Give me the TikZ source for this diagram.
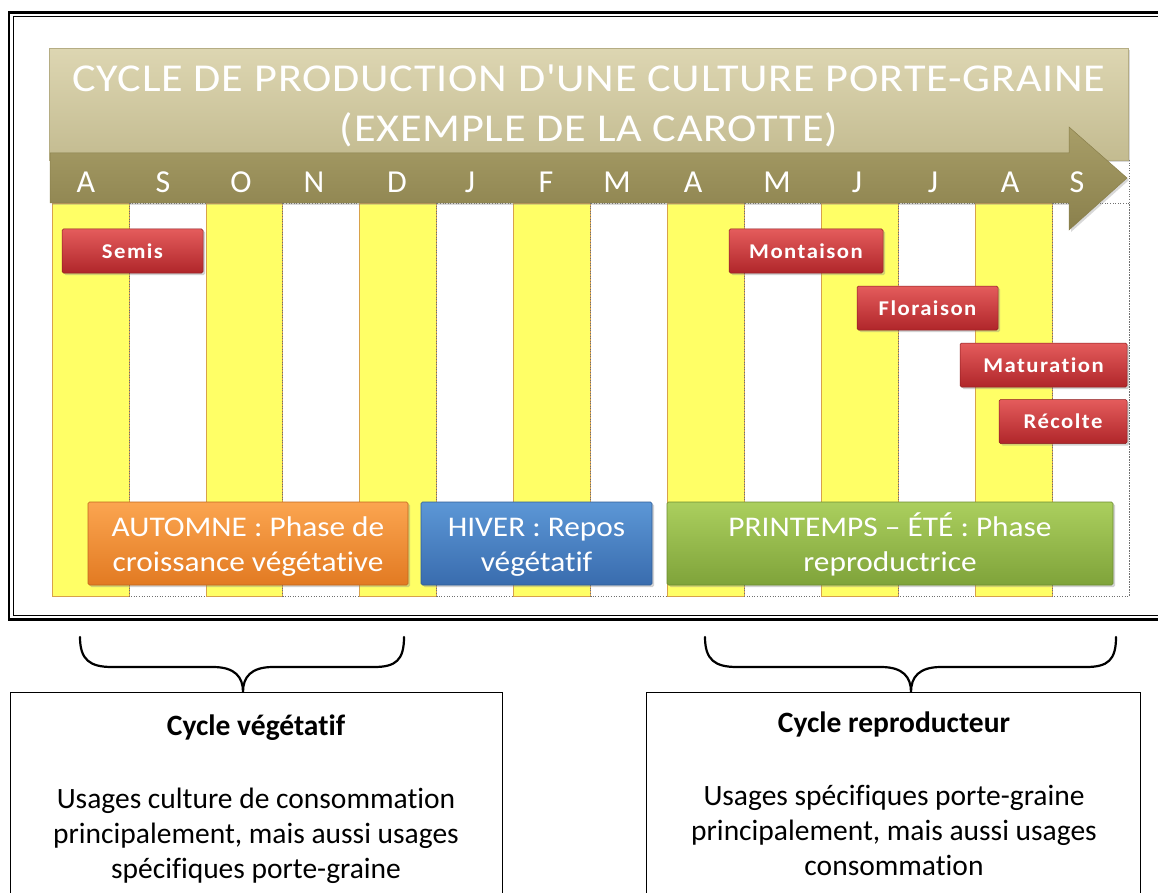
\documentclass[tikz,border=0pt]{standalone}
\usepackage{fontspec}
\setmainfont{Carlito}[Ligatures=NoCommon]
\newfontfamily\titlefont{Carlito}[LetterSpace=2,FakeStretch=1.12,Ligatures=NoCommon]
\newfontfamily\redfont{Carlito}[LetterSpace=7,FakeStretch=1.08,Ligatures=NoCommon]
\newfontfamily\phasefont{Carlito}[FakeStretch=1.1,Ligatures=NoCommon]
\usetikzlibrary{shadows}
\definecolor{ylw}{HTML}{FFFF66}
\definecolor{ylwedge}{HTML}{D8A24A}
\definecolor{tantop}{HTML}{DDD6B2}
\definecolor{tanbot}{HTML}{C3BB90}
\definecolor{tanedge}{HTML}{B5AD84}
\definecolor{arrtop}{HTML}{A89E68}
\definecolor{arrbot}{HTML}{8A804C}
\definecolor{redtop}{HTML}{E45C5C}
\definecolor{redbot}{HTML}{B0262A}
\definecolor{rededge}{HTML}{8C1C1E}
\definecolor{ortop}{HTML}{FBA550}
\definecolor{orbot}{HTML}{E27A22}
\definecolor{oredge}{HTML}{C0661C}
\definecolor{bltop}{HTML}{5C97D6}
\definecolor{blbot}{HTML}{396CAE}
\definecolor{bledge}{HTML}{2F5C96}
\definecolor{grtop}{HTML}{ABCF5E}
\definecolor{grbot}{HTML}{7FA33A}
\definecolor{gredge}{HTML}{6C8C30}
\definecolor{dotgray}{HTML}{707070}
\begin{document}
\begin{tikzpicture}[x=1pt,y=-1pt,
  yelcol/.style={fill=ylw,draw=ylwedge,line width=0.6pt},
  whitecol/.style={draw=dotgray,dotted,line width=0.6pt},
  redbox/.style={rectangle,rounded corners=1.5pt,top color=redtop,bottom color=redbot,draw=rededge,line width=0.5pt,
    minimum height=44pt,inner sep=0pt,text=white,font=\redfont\bfseries\fontsize{21}{24}\selectfont,
    drop shadow={shadow xshift=2pt,shadow yshift=-2pt,opacity=0.35}},
  phasebox/.style={rectangle,rounded corners=1.5pt,minimum height=83pt,inner sep=0pt,text=white,align=center,
    font=\phasefont\fontsize{28.5}{35}\selectfont,line width=0.6pt,
    drop shadow={shadow xshift=2pt,shadow yshift=-2pt,opacity=0.35}},
  phasetext/.style={text=white,align=center,inner sep=0pt,font=\phasefont\fontsize{28.5}{35}\selectfont},
  month/.style={anchor=base,text=white,font=\fontsize{32}{36}\selectfont},
  titletext/.style={anchor=base,text=white,font=\titlefont\fontsize{39.5}{48}\selectfont},
  infobox/.style={rectangle,draw=black,line width=0.8pt,anchor=north west,inner sep=0pt},
  infotitle/.style={font=\bfseries\fontsize{29.5}{34}\selectfont,anchor=base},
  infobody/.style={align=center,font=\fontsize{29.5}{35}\selectfont},
  bracestyle/.style={line width=2.2pt,line cap=round}]
\useasboundingbox (0,0) rectangle (1158,893);
\clip (0,0) rectangle (1158,893);
\fill[white] (0,0) rectangle (1158,893);
% outer double frame
\draw[line width=2.2pt] (9,12.5) rectangle (1172,619.5);
\draw[line width=0.8pt] (13.5,16.5) rectangle (1167,615);
% columns
\foreach \i in {0,...,13}{
  \pgfmathsetmacro{\xa}{52+76.93*\i}
  \pgfmathsetmacro{\xb}{52+76.93*(\i+1)}
  \ifodd\i
    \draw[whitecol] (\xa,203) rectangle (\xb,596);
  \else
    \draw[yelcol] (\xa,203) rectangle (\xb,596);
  \fi
}
\draw[whitecol] (1129,160) -- (1129,596);
% title box
\node[rectangle,anchor=north west,minimum width=1079pt,minimum height=112pt,inner sep=0pt,
  top color=tantop,bottom color=tanbot,draw=tanedge,line width=0.5pt,
  drop shadow={shadow xshift=2pt,shadow yshift=-2pt,opacity=0.3}] (titlebox) at (49,48) {};
\node[titletext] (title1) at (589,92) {CYCLE DE PRODUCTION D'UNE CULTURE PORTE-GRAINE};
\node[titletext] (title2) at (589,142) {(EXEMPLE DE LA CAROTTE)};
% arrow band
\path[top color=arrtop,bottom color=arrbot,draw=arrbot,line width=0.5pt,
  drop shadow={shadow xshift=2pt,shadow yshift=-2pt,opacity=0.3}]
  (50,153) -- (1069,153) -- (1069,127) -- (1127,178) -- (1069,230) -- (1069,203) -- (50,203) -- cycle;
% months
\foreach \x/\m [count=\k] in {86/A,163/S,241/O,314/N,397/D,470/J,546/F,617/M,693/A,777/M,857/J,933/J,1010/A,1077/S}{
  \node[month] (m\k) at (\x,193) {\m};
}
% red event boxes
\node[redbox,minimum width=141pt] (semis) at (132.5,251) {Semis};
\node[redbox,minimum width=154pt] (montaison) at (806,251) {Montaison};
\node[redbox,minimum width=141pt] (floraison) at (927.5,308) {Floraison};
\node[redbox,minimum width=167pt] (maturation) at (1043.5,365) {Maturation};
\node[redbox,minimum width=128pt] (recolte) at (1063,421.5) {Récolte};
% phase boxes
\node[phasebox,minimum width=320pt,top color=ortop,bottom color=orbot,draw=oredge] (automne) at (248,543.5) {};
\node[phasetext] (automnetxt) at (248,547) {AUTOMNE : Phase de\\croissance végétative};
\node[phasebox,minimum width=231pt,top color=bltop,bottom color=blbot,draw=bledge] (hiver) at (536.5,543.5) {};
\node[phasetext] (hivertxt) at (536.5,547) {HIVER : Repos\\végétatif};
\node[phasebox,minimum width=446pt,top color=grtop,bottom color=grbot,draw=gredge] (printemps) at (890,543.5) {};
\node[phasetext] (printempstxt) at (890,544) {PRINTEMPS – ÉTÉ : Phase\\reproductrice};
% bottom info boxes
\node[infobox,minimum width=492pt,minimum height=260pt] (vbox) at (10,692) {};
\node[infobox,minimum width=494pt,minimum height=260pt] (rbox) at (646,692) {};
\node[infotitle] (vtitle) at (256,735) {Cycle végétatif};
\node[infobody] (vbody) at (256,836) {Usages culture de consommation\\principalement, mais aussi usages\\spécifiques porte-graine};
\node[infotitle] (rtitle) at (894,732) {Cycle reproducteur};
\node[infobody] (rbody) at (894,830) {Usages spécifiques porte-graine\\principalement, mais aussi usages\\consommation};
% braces
\coordinate (vcusp) at (243,692);
\coordinate (rcusp) at (911,692);
\draw[bracestyle] (80,637) .. controls (80,660) and (90,667) .. (112,667) -- (213,667)
  .. controls (235,667) and (243,677) .. (vcusp)
  .. controls (243,677) and (251,667) .. (273,667) -- (374,667)
  .. controls (396,667) and (404,660) .. (404,637);
\draw[bracestyle] (705,637) .. controls (705,660) and (715,667) .. (737,667) -- (881,667)
  .. controls (903,667) and (911,677) .. (rcusp)
  .. controls (911,677) and (919,667) .. (941,667) -- (1086,667)
  .. controls (1108,667) and (1116,660) .. (1116,637);
\end{tikzpicture}
\end{document}
